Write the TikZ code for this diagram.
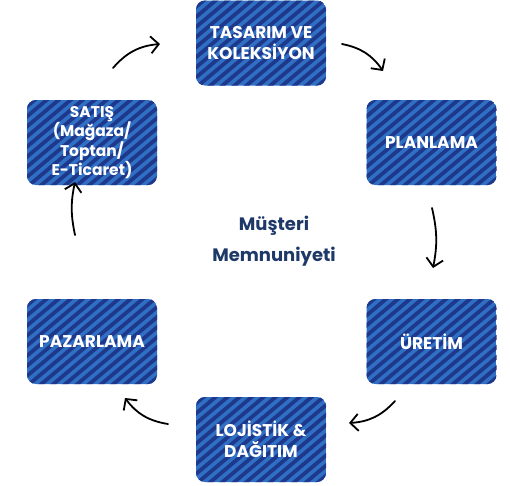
\documentclass[tikz,border=0pt]{standalone}
\usepackage{fontspec}
\usetikzlibrary{arrows.meta}
\setmainfont{Poppins}
\definecolor{stripelight}{RGB}{48,112,196}
\definecolor{stripedark}{RGB}{30,56,140}
\definecolor{navy}{RGB}{30,56,104}

\begin{document}
\begin{tikzpicture}[
		x=1pt, y=-1pt,
		line width=1.8pt,
		stage/.style={rounded corners=9pt, minimum width=130pt, minimum height=85pt, inner sep=2pt,
			text=white, align=center, font=\bfseries\fontsize{17}{21}\selectfont,
			path picture={
				\fill[stripelight] (path picture bounding box.south west) rectangle (path picture bounding box.north east);
				\foreach \k in {-17,...,17}
					\draw[stripedark, line width=3.8pt] ([xshift=\k*12pt]path picture bounding box.center) ++(-100pt,-84pt) -- ++(200pt,168pt);
			}},
		loop arrow/.style={-{Straight Barb[length=8pt,width=17pt]}, line cap=round, line join=round},
	]
		\useasboundingbox (0,0) rectangle (510,485);

		\node[stage] (tasarim) at (261,43) {TASARIM VE\\KOLEKSİYON};
		\node[stage] (plan) at (431.5,142.5) {PLANLAMA};
		\node[stage] (uretim) at (431.5,341.5) {ÜRETİM};
		\node[stage] (lojistik) at (261,439.5) {LOJİSTİK \&\\DAĞITIM};
		\node[stage] (pazar) at (92,341.5) {PAZARLAMA};
		\node[stage, font=\bfseries\fontsize{15.5}{19.5}\selectfont] (satis) at (92,142.5) {SATIŞ\\(Mağaza/\\Toptan/\\E-Ticaret)};
		\node[text=navy, align=center, font=\bfseries\fontsize{18}{31}\selectfont] (musteri) at (274,241) {Müşteri\\Memnuniyeti};

		% arrow ends
		\coordinate (a1s) at (113,68);  \coordinate (a1e) at (160,44);
		\coordinate (a2s) at (342,44);  \coordinate (a2e) at (383,71);
		\coordinate (a3s) at (432,208); \coordinate (a3e) at (433,268);
		\coordinate (a4s) at (395,401); \coordinate (a4e) at (349,423);
		\coordinate (a5s) at (168,424); \coordinate (a5e) at (125,398);
		\coordinate (a6s) at (75,235);  \coordinate (a6e) at (75,182);

		\draw[loop arrow] (a1s) to[bend left=22] (a1e);
		\draw[loop arrow] (a2s) to[bend left=22] (a2e);
		\draw[loop arrow] (a3s) to[bend left=12] (a3e);
		\draw[loop arrow] (a4s) to[bend left=22] (a4e);
		\draw[loop arrow] (a5s) to[bend left=22] (a5e);
		\draw[loop arrow] (a6s) to[bend left=12] (a6e);
	\end{tikzpicture}
\end{document}
